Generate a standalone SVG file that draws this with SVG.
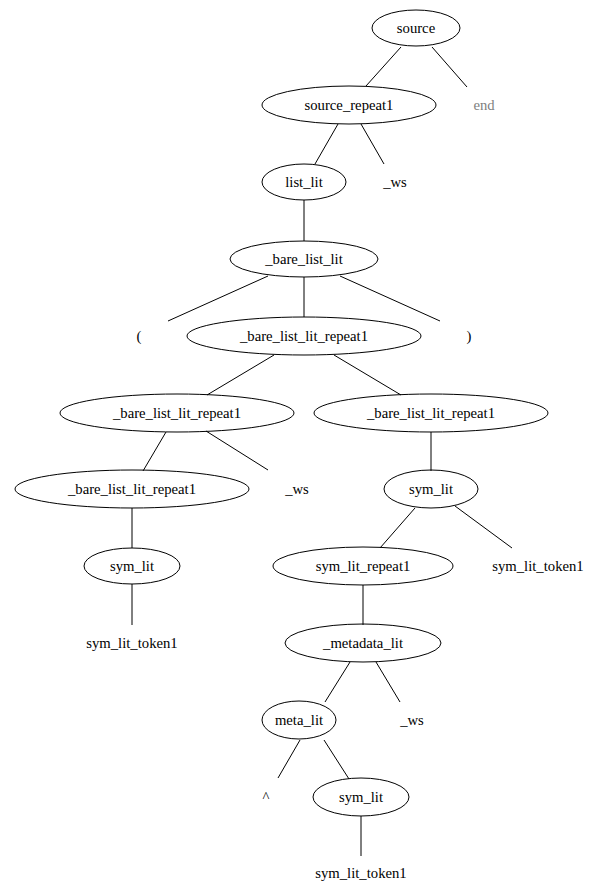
<svg xmlns="http://www.w3.org/2000/svg" width="595" height="896" viewBox="0 0 595 896">
<style>
ellipse{fill:none;stroke:#000;stroke-width:1}
text{font-family:"Liberation Serif","Times New Roman",serif;font-size:14.7px;text-anchor:middle;fill:#000}
.g{fill:#808080}
#edges line{stroke:#000;stroke-width:1}
</style>
<rect width="595" height="896" fill="#fff"/>
<g id="edges">
<line x1="401" y1="47" x2="366" y2="86"/>
<line x1="432" y1="47" x2="467" y2="87"/>
<line x1="338" y1="124" x2="315" y2="164"/>
<line x1="361" y1="124" x2="384" y2="164"/>
<line x1="304" y1="200" x2="304" y2="241"/>
<line x1="268" y1="276" x2="168" y2="321"/>
<line x1="304" y1="277" x2="304" y2="317"/>
<line x1="340" y1="276" x2="440" y2="321"/>
<line x1="274" y1="355" x2="207" y2="395"/>
<line x1="334" y1="355" x2="401" y2="395"/>
<line x1="166" y1="432" x2="143" y2="471"/>
<line x1="206" y1="431" x2="268" y2="470"/>
<line x1="431" y1="432" x2="431" y2="471"/>
<line x1="132" y1="508" x2="132" y2="548"/>
<line x1="415" y1="508" x2="380" y2="548"/>
<line x1="455" y1="506" x2="512" y2="548"/>
<line x1="132" y1="584" x2="132" y2="625"/>
<line x1="363" y1="585" x2="363" y2="625"/>
<line x1="350" y1="662" x2="325" y2="702"/>
<line x1="376" y1="662" x2="400" y2="702"/>
<line x1="300" y1="740" x2="278" y2="778"/>
<line x1="324" y1="740" x2="349" y2="779"/>
<line x1="361" y1="816" x2="361" y2="856"/>
</g>
<g id="source"><ellipse cx="416" cy="28" rx="44" ry="18"/><text x="416" y="33">source</text></g>
<g id="source_repeat1"><ellipse cx="349" cy="105" rx="87" ry="19"/><text x="349" y="110">source_repeat1</text></g>
<g id="end"><text class="g" x="484" y="110">end</text></g>
<g id="list_lit"><ellipse cx="304" cy="182" rx="42" ry="18"/><text x="304" y="187">list_lit</text></g>
<g id="ws1"><text x="395" y="187">_ws</text></g>
<g id="bare_list_lit"><ellipse cx="304" cy="259" rx="74" ry="18"/><text x="304" y="264">_bare_list_lit</text></g>
<g id="lparen"><text x="139" y="341">(</text></g>
<g id="blr_top"><ellipse cx="304" cy="336" rx="117" ry="19"/><text x="304" y="341">_bare_list_lit_repeat1</text></g>
<g id="rparen"><text x="469" y="341">)</text></g>
<g id="blr_left"><ellipse cx="177" cy="413" rx="117" ry="19"/><text x="177" y="418">_bare_list_lit_repeat1</text></g>
<g id="blr_right"><ellipse cx="431" cy="413" rx="117" ry="19"/><text x="431" y="418">_bare_list_lit_repeat1</text></g>
<g id="blr_leftleft"><ellipse cx="132" cy="489" rx="117" ry="19"/><text x="132" y="494">_bare_list_lit_repeat1</text></g>
<g id="ws2"><text x="297" y="494">_ws</text></g>
<g id="sym_lit_r"><ellipse cx="431" cy="489" rx="47" ry="19"/><text x="431" y="494">sym_lit</text></g>
<g id="sym_lit_l"><ellipse cx="132" cy="566" rx="48" ry="18"/><text x="132" y="571">sym_lit</text></g>
<g id="sym_lit_repeat1"><ellipse cx="363" cy="566" rx="90" ry="19"/><text x="363" y="571">sym_lit_repeat1</text></g>
<g id="tok_r"><text x="538" y="571">sym_lit_token1</text></g>
<g id="tok_l"><text x="132" y="648">sym_lit_token1</text></g>
<g id="metadata_lit"><ellipse cx="363" cy="643" rx="78" ry="19"/><text x="363" y="648">_metadata_lit</text></g>
<g id="meta_lit"><ellipse cx="299" cy="720" rx="37" ry="19"/><text x="299" y="725">meta_lit</text></g>
<g id="ws3"><text x="412" y="725">_ws</text></g>
<g id="caret"><text x="266" y="802">^</text></g>
<g id="sym_lit_b"><ellipse cx="361" cy="797" rx="48" ry="19"/><text x="361" y="802">sym_lit</text></g>
<g id="tok_b"><text x="361" y="878">sym_lit_token1</text></g>
</svg>
